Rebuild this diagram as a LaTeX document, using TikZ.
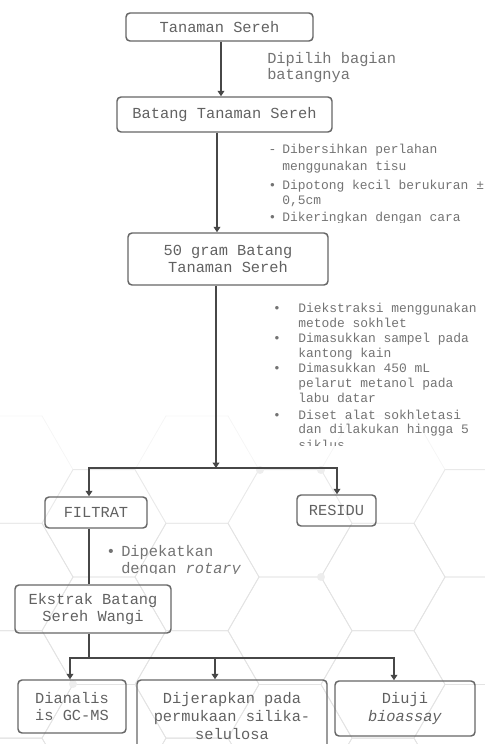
\documentclass[tikz,border=0pt]{standalone}
\usepackage{fontspec}
\setmainfont{Liberation Mono}
\usetikzlibrary{arrows.meta}
\begin{document}
\begin{tikzpicture}[x=0.75pt,y=-0.75pt,
 box/.style={draw=black!60, line width=1.1pt, rounded corners=3pt, align=center, text=black!62, inner sep=0pt, font=\fontsize{11.5}{13.2}\selectfont},
 ln/.style={draw=black!72, line width=1.1pt},
 arr/.style={ln, -{Triangle[width=5pt,length=4pt]}},
 arrtwo/.style={ln, {Triangle[width=5pt,length=4pt]}-{Triangle[width=5pt,length=4pt]}},
 lbl/.style={anchor=base west, inner sep=0pt, text=black!55, font=\fontsize{11.5}{13.2}\selectfont},
 sml/.style={anchor=base west, inner sep=0pt, text=black!55, font=\fontsize{9.7}{11}\selectfont},
 bul/.style={anchor=base, inner sep=0pt, text=black!55, font=\fontsize{9.7}{11}\selectfont},
 hexline/.style={line width=0.6pt},
]
\useasboundingbox (0,0) rectangle (485,744);
\begin{scope}
\clip (0,0) rectangle (485,744);
% faint honeycomb background
\foreach \j in {-8,...,4}{
 \foreach \i in {-5,...,2}{
  \ifodd\numexpr\i+\j\relax\else
   \pgfmathsetmacro\cx{383+93*\i}
   \pgfmathsetmacro\cy{577+53.7*\j}
   \pgfmathsetmacro\op{min(1,max(0,(\cy-430)/120))*11}
   \draw[hexline, black!\op] (\cx+62,\cy) -- (\cx+31,\cy-53.7) -- (\cx-31,\cy-53.7) -- (\cx-62,\cy) -- (\cx-31,\cy+53.7) -- (\cx+31,\cy+53.7) -- cycle;
  \fi
 }
}
\foreach \p in {(260,470),(321,470),(321,577),(73,684)}{
 \fill[black!7] \p circle[radius=3pt];
}

% boxes
\node[box, minimum width=187*0.75pt, minimum height=28*0.75pt] (n1) at (219.5,27) {Tanaman Sereh};
\node[box, minimum width=215*0.75pt, minimum height=35*0.75pt] (n2) at (224.5,114.5) {Batang Tanaman Sereh};
\node[box, minimum width=200*0.75pt, minimum height=52*0.75pt] (n3) at (228,259) {50 gram Batang\\Tanaman Sereh};
\node[box, minimum width=102*0.75pt, minimum height=31*0.75pt] (filtrat) at (96,512.5) {FILTRAT};
\node[box, minimum width=79*0.75pt, minimum height=31*0.75pt] (residu) at (336.5,510.5) {RESIDU};
\node[box, minimum width=156*0.75pt, minimum height=48*0.75pt] (ekstrak) at (93,609) {Ekstrak Batang\\Sereh Wangi};
\node[box, minimum width=108*0.75pt, minimum height=53*0.75pt] (dian) at (72,706.5) {Dianalis\\is GC-MS};
\node[box, minimum width=190*0.75pt, minimum height=72*0.75pt] (dijer) at (232,716) {Dijerapkan pada\\permukaan silika-\\selulosa};
\node[box, minimum width=140*0.75pt, minimum height=55*0.75pt] (diuji) at (405,708.5) {Diuji\\\textit{bioassay}};

% connectors
\coordinate (c1) at (221,0);
\draw[arr] (c1 |- n1.south) -- (c1 |- n2.north);
\coordinate (c2) at (217,0);
\draw[arr] (c2 |- n2.south) -- (c2 |- n3.north);
\coordinate (j1) at (216,468);
\coordinate (jL) at (89,468);
\coordinate (jR) at (337,468);
\draw[arr] (j1 |- n3.south) -- (j1);
\draw[arrtwo] (jL |- filtrat.north) -- (jL) -- (jR) -- (jR |- residu.north);
\coordinate (c3) at (89,0);
\draw[ln] (c3 |- filtrat.south) -- (c3 |- ekstrak.north);
\coordinate (j2) at (89,658);
\coordinate (k1) at (70,658);
\coordinate (k2) at (215,658);
\coordinate (k3) at (394,658);
\draw[ln] (j2 |- ekstrak.south) -- (j2);
\draw[arrtwo] (k1 |- dian.north) -- (k1) -- (k3) -- (k3 |- diuji.north);
\draw[arr] (k2) -- (k2 |- dijer.north);

% label 1
\node[lbl] (t1a) at (267,63) {Dipilih bagian};
\node[lbl] (t1b) at (267,79) {batangnya};

% label block 1
\node[bul] (b1a) at (272.5,153.5) {-};
\node[sml] (s1a) at (282,153.5) {Dibersihkan perlahan};
\node[sml] (s1b) at (282,170.5) {menggunakan tisu};
\node[bul] (b1b) at (272.5,189) {•};
\node[sml] (s1c) at (282,189) {Dipotong kecil berukuran ±};
\node[sml] (s1d) at (282,204.5) {0,5cm};
\begin{scope}
\clip (250,150) rectangle (485,222);
\node[bul] (b1c) at (272.5,221) {•};
\node[sml] (s1e) at (282,221) {Dikeringkan dengan cara};
\end{scope}

% label block 2
\node[bul] (b2a) at (277,312.8) {•};
\node[sml] (s2a) at (298,312.8) {Diekstraksi menggunakan};
\node[sml] (s2b) at (298,327.2) {metode sokhlet};
\node[bul] (b2b) at (277,342.8) {•};
\node[sml] (s2c) at (298,342.8) {Dimasukkan sampel pada};
\node[sml] (s2d) at (298,357.2) {kantong kain};
\node[bul] (b2c) at (277,372.8) {•};
\node[sml] (s2e) at (298,372.8) {Dimasukkan 450 mL};
\node[sml] (s2f) at (298,387.8) {pelarut metanol pada};
\node[sml] (s2g) at (298,402.8) {labu datar};
\node[bul] (b2d) at (277,419.5) {•};
\node[sml] (s2h) at (298,419.5) {Diset alat sokhletasi};
\node[sml] (s2i) at (298,433.8) {dan dilakukan hingga 5};
\begin{scope}
\clip (250,438) rectangle (485,445);
\node[sml] (s2j) at (298,449) {siklus};
\end{scope}

% label 3
\node[bul, font=\fontsize{11.5}{13.2}\selectfont] (b3a) at (111,556.5) {•};
\node[lbl] (t3a) at (121,556.5) {Dipekatkan};
\begin{scope}
\clip (100,560) rectangle (300,573.7);
\node[lbl] (t3b) at (121,573) {dengan \textit{rotary}};
\end{scope}
\end{scope}
\end{tikzpicture}
\end{document}
